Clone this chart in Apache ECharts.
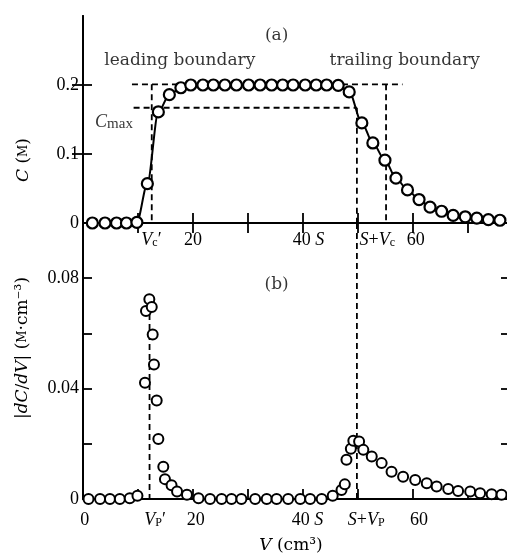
<!DOCTYPE html>
<html><head><meta charset="utf-8">
<script src="https://cdn.jsdelivr.net/npm/echarts@6/dist/echarts.min.js"></script>
<style>html,body{margin:0;padding:0;background:#fff}#c{width:507px;height:554px}</style>
</head><body><div id="c"></div>
<script>
// ---- data ----
const volC = [1.7, 4.0, 6.1, 7.9, 9.8, 11.7, 13.7, 15.7, 17.8, 19.6, 21.8, 23.7, 25.8, 27.9, 30.1, 32.2, 34.3, 36.3, 38.2, 40.4, 42.4, 44.3, 46.4, 48.4, 50.7, 52.7, 54.9, 56.9, 59.0, 61.1, 63.1, 65.2, 67.3, 69.5, 71.6, 73.7, 75.8];
const conc = [0, 0, 0, 0, 0.001, 0.057, 0.161, 0.186, 0.196, 0.2, 0.2, 0.2, 0.2, 0.2, 0.2, 0.2, 0.2, 0.2, 0.2, 0.2, 0.2, 0.2, 0.1995, 0.19, 0.145, 0.116, 0.091, 0.065, 0.048, 0.034, 0.023, 0.017, 0.011, 0.009, 0.007, 0.005, 0.004];

const volD = [1.0, 3.1, 4.9, 6.7, 8.5, 9.9, 11.27, 11.45, 12.06, 12.5, 12.67, 12.9, 13.4, 13.7, 14.6, 14.9, 16.1, 17.1, 18.9, 21.0, 23.1, 25.2, 27.0, 28.8, 31.3, 33.4, 35.2, 37.3, 39.5, 41.3, 43.4, 45.4, 47.0, 47.6, 47.9, 48.7, 49.15, 50.2, 50.97, 52.5, 54.3, 56.1, 58.2, 60.4, 62.5, 64.3, 66.4, 68.2, 70.4, 72.2, 74.3, 76.1];
const deriv = [0, 0, 0, 0, 0.0003, 0.0012, 0.0421, 0.0681, 0.0724, 0.0696, 0.0596, 0.0487, 0.0357, 0.0217, 0.0117, 0.0072, 0.005, 0.0027, 0.0015, 0.0003, 0, 0, 0, 0, 0, 0, 0, 0, 0, 0, 0, 0.0012, 0.0033, 0.0053, 0.0142, 0.0182, 0.0211, 0.0208, 0.0178, 0.0154, 0.013, 0.0099, 0.0081, 0.0069, 0.0057, 0.0045, 0.0036, 0.0029, 0.0027, 0.0021, 0.0017, 0.0015];

// dashed guide lines: [[x1,y1],[x2,y2]]
const guidesTop = [
  [[8.9, 0.201], [58.1, 0.201]],
  [[9.2, 0.167], [49.8, 0.167]],
  [[12.5, 0.201], [12.5, 0]],
  [[49.8, 0.167], [49.8, 0]],
  [[55.1, 0.201], [55.1, 0]]
];
const guidesBottom = [
  [[12.1, 0.067], [12.1, 0]],
  [[49.8, 0.1], [49.8, 0]]
];

// ticks and tick labels
const xTicks = [10, 20, 30, 40, 50, 60, 70];
const topTickVals = [12.45, 20, 41.0, 53.5, 60.5];
const topTickText = ['{i|V}{s|c}′', '20', '40 {i|S}', '{i|S}+{i|V}{s|c}', '60'];
const botTickVals = [0.3, 13.1, 20.5, 40.8, 51.5, 61.1];
const botTickText = ['0', '{i|V}{s|P}′', '20', '40 {i|S}', '{i|S}+{i|V}{s|P}', '60'];
const topYTicks = [0.1, 0.2];
const topYLabels = [0, 0.1, 0.2];
const botYTicks = [0.02, 0.04, 0.06, 0.08];
const botYLabels = [0, 0.04, 0.08];

// annotations [x, y, text]
const annTop = [
  [35.2, 0.272, '(a)'],
  [17.6, 0.2355, 'leading boundary'],
  [58.5, 0.2355, 'trailing boundary'],
  [2.2, 0.146, '{i|C}{m|max}']
];
const annBottom = [
  [35.2, 0.0778, '(b)']
];

// ---- styling ----
const SERIF = 'Liberation Serif';
const WIDE = 'DejaVu Serif';
const INK = '#000';
const rich = {
  i: {fontFamily: SERIF, fontStyle: 'italic', fontSize: 18, color: INK},
  s: {fontFamily: SERIF, fontSize: 12, color: INK, verticalAlign: 'bottom', lineHeight: 10},
  m: {fontFamily: SERIF, fontSize: 15, color: INK, verticalAlign: 'bottom', lineHeight: 16},
  wi: {fontFamily: WIDE, fontStyle: 'italic', fontSize: 17, color: INK},
  wk: {fontFamily: WIDE, fontSize: 12, color: INK}
};
function lookup(vals, texts) {
  return v => { for (let i = 0; i < vals.length; i++) if (Math.abs(v - vals[i]) < 1e-6) return texts[i]; return ''; };
}
const axisLine = {show: true, lineStyle: {color: INK, width: 2}};
const XMAX = 78;

function xAx(grid, pos, labels) {
  return {
    type: 'value', gridIndex: grid, position: pos, min: 0, max: XMAX, interval: 10,
    axisLine: axisLine,
    axisTick: {show: true, inside: true, length: 10, customValues: xTicks, lineStyle: {color: INK, width: 1.8}},
    axisLabel: labels ? {show: true, customValues: labels[0], formatter: lookup(labels[0], labels[1]),
      fontFamily: SERIF, fontSize: 18, color: INK, margin: labels[2], rich: rich} : {show: false},
    splitLine: {show: false}
  };
}
function yAx(grid, pos, max, interval, ticks, labels) {
  return {
    type: 'value', gridIndex: grid, position: pos, min: 0, max: max, interval: interval,
    axisLine: axisLine,
    axisTick: {show: true, inside: true, customValues: ticks, length: pos === 'left' ? 9 : 11, lineStyle: {color: INK, width: 1.8}},
    axisLabel: labels ? {show: true, customValues: labels, fontFamily: SERIF, fontSize: 18, color: INK, margin: 4} : {show: false},
    splitLine: {show: false}
  };
}

const series = [];
guidesTop.forEach(g => series.push({type: 'line', xAxisIndex: 0, yAxisIndex: 0, data: g, symbol: 'none', silent: true, z: 1,
  lineStyle: {color: INK, width: 1.8, type: [6, 4]}}));
guidesBottom.forEach(g => series.push({type: 'line', xAxisIndex: 2, yAxisIndex: 2, data: g, symbol: 'none', silent: true, z: 1,
  lineStyle: {color: INK, width: 1.8, type: [6, 4]}}));
series.push({
  type: 'line', xAxisIndex: 0, yAxisIndex: 0, z: 3,
  data: volC.map((x, i) => [x, conc[i]]),
  smooth: 0.3, smoothMonotone: 'x',
  symbol: 'circle', symbolSize: 11, showAllSymbol: true,
  lineStyle: {color: INK, width: 2},
  itemStyle: {color: '#fff', borderColor: INK, borderWidth: 2.2}
});
series.push({
  type: 'scatter', xAxisIndex: 2, yAxisIndex: 2, z: 3,
  data: volD.map((x, i) => [x, deriv[i]]),
  symbol: 'circle', symbolSize: 10,
  itemStyle: {color: '#fff', borderColor: INK, borderWidth: 2, opacity: 1}
});
function annSeries(list, xi, yi) {
  return {
    type: 'scatter', xAxisIndex: xi, yAxisIndex: yi, z: 5, silent: true, symbolSize: 0, clip: false,
    data: list.map(a => ({value: [a[0], a[1]], name: a[2],
      label: a[2].indexOf('max') >= 0 ? {align: 'left', fontFamily: SERIF, fontSize: 18} : {align: 'center'}})),
    label: {show: true, position: 'inside', formatter: p => p.name, fontFamily: WIDE, fontSize: 17, color: INK, rich: rich}
  };
}
series.push(annSeries(annTop, 0, 0));
series.push(annSeries(annBottom, 2, 2));

const chart = echarts.init(document.getElementById('c'), null, {renderer: 'canvas'});
chart.setOption({
  animation: false,
  backgroundColor: '#fff',
  grid: [
    {left: 83, top: 16, width: 429, height: 207, outerBoundsMode: 'none', containLabel: false},
    {left: 83, top: 223, width: 429, height: 276, outerBoundsMode: 'none', containLabel: false}
  ],
  xAxis: [
    xAx(0, 'bottom', [topTickVals, topTickText, 8]),
    xAx(0, 'top', null),
    xAx(1, 'bottom', [botTickVals, botTickText, 12])
  ],
  yAxis: [
    yAx(0, 'left', 0.3, 0.1, topYTicks, topYLabels),
    yAx(0, 'right', 0.3, 0.1, topYTicks, null),
    yAx(1, 'left', 0.1, 0.02, botYTicks, botYLabels),
    yAx(1, 'right', 0.1, 0.02, botYTicks, null)
  ],
  series: series,
  graphic: [
    {type: 'text', x: 24, y: 160, rotation: Math.PI / 2,
      style: {text: '{wi|C} ({wk|M})', rich: rich, font: '17px ' + WIDE, fill: INK, align: 'center', verticalAlign: 'middle'}},
    {type: 'text', x: 23, y: 348, rotation: Math.PI / 2,
      style: {text: '|{wi|dC}/{wi|dV}| ({wk|M}·cm⁻³)', rich: rich, font: '17px ' + WIDE, fill: INK, align: 'center', verticalAlign: 'middle'}},
    {type: 'text', x: 291, y: 546,
      style: {text: '{wi|V} (cm³)', rich: rich, font: '17px ' + WIDE, fill: INK, align: 'center', verticalAlign: 'middle'}}
  ]
});
</script>
</body></html>
